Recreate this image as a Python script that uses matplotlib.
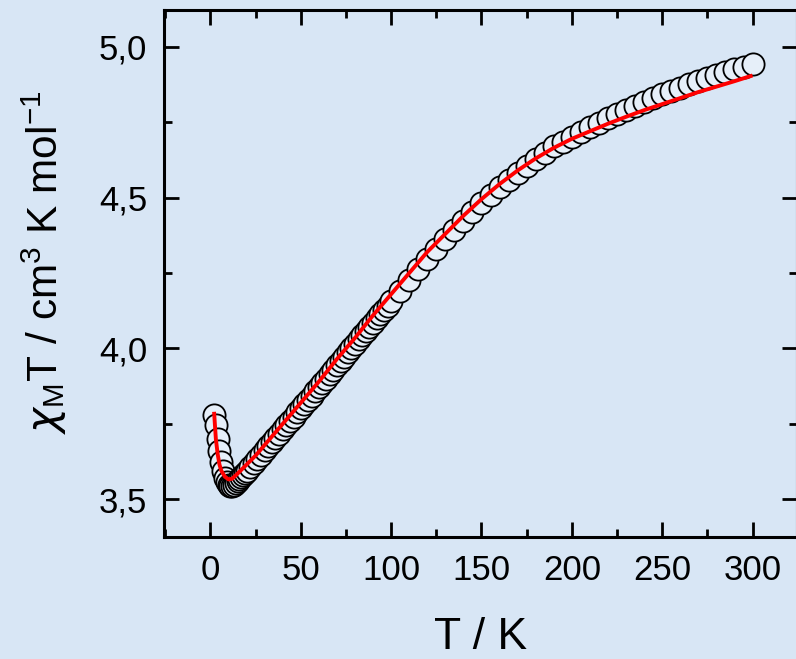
import matplotlib
matplotlib.use("Agg")
import matplotlib.pyplot as plt
from matplotlib.ticker import MultipleLocator

plt.rcParams['font.family'] = ['Liberation Sans', 'DejaVu Sans']
plt.rcParams['mathtext.fontset'] = 'custom'
plt.rcParams['mathtext.rm'] = 'Liberation Sans'
plt.rcParams['mathtext.it'] = 'DejaVu Sans:italic'
plt.rcParams['mathtext.bf'] = 'Liberation Sans:bold'

# ---- data: measured chi_M T (open circles) ----
T_exp = [2, 3, 4, 5, 6, 7, 8, 9, 10, 11, 12, 13, 14, 15, 16, 17, 18, 19, 20,
         22, 24, 26, 28, 30, 32, 34, 36, 38, 40, 42, 44, 46, 48, 50, 52, 54, 56, 58, 60,
         62, 64, 66, 68, 70, 72, 74, 76, 78, 80, 82, 84, 86, 88, 90, 92, 94, 96, 98, 100,
         105, 110, 115, 120, 125, 130, 135, 140, 145, 150, 155, 160, 165, 170, 175, 180,
         185, 190, 195, 200, 205, 210, 215, 220, 225, 230, 235, 240, 245, 250, 255, 260,
         265, 270, 275, 280, 285, 290, 295, 300]
chiT_exp = [3.780, 3.745, 3.700, 3.660, 3.625, 3.595, 3.572, 3.556, 3.547, 3.544,
            3.545, 3.548, 3.553, 3.559, 3.566, 3.573, 3.580, 3.587, 3.594,
            3.607, 3.620, 3.634, 3.648, 3.662, 3.676, 3.690, 3.704, 3.718, 3.732,
            3.746, 3.760, 3.774, 3.788, 3.802, 3.816, 3.830, 3.844, 3.858, 3.872,
            3.886, 3.900, 3.915, 3.929, 3.944, 3.958, 3.973, 3.987, 4.001, 4.016,
            4.030, 4.044, 4.058, 4.072, 4.086, 4.100, 4.114, 4.128, 4.142, 4.156,
            4.192, 4.228, 4.262, 4.297, 4.330, 4.362, 4.393, 4.424, 4.453, 4.481,
            4.508, 4.534, 4.559, 4.583, 4.606, 4.628, 4.649, 4.670, 4.686, 4.700,
            4.717, 4.733, 4.748, 4.763, 4.777, 4.791, 4.805, 4.818, 4.831, 4.843,
            4.854, 4.865, 4.876, 4.886, 4.896, 4.905, 4.915, 4.925, 4.934, 4.944]

# ---- data: fit (red line) ----
T_fit = [2, 3, 4, 5, 6, 8, 10, 12, 15, 20, 25, 30, 40, 50, 60, 70, 80, 90, 100,
         110, 120, 130, 140, 150, 160, 170, 180, 190, 200, 210, 220, 230, 240, 250,
         260, 270, 280, 290, 300]
chiT_fit = [3.790, 3.700, 3.650, 3.615, 3.595, 3.575, 3.566, 3.568, 3.585, 3.615,
            3.645, 3.680, 3.750, 3.820, 3.890, 3.965, 4.035, 4.110, 4.180,
            4.250, 4.320, 4.380, 4.440, 4.495, 4.545, 4.590, 4.630, 4.665, 4.695,
            4.720, 4.745, 4.768, 4.790, 4.810, 4.830, 4.850, 4.868, 4.886, 4.905]

x_ticks = [0, 50, 100, 150, 200, 250, 300]
y_ticks = [3.5, 4.0, 4.5, 5.0]
y_tick_labels = ['3,5', '4,0', '4,5', '5,0']

bg = '#d8e6f5'
W, H = 796, 659
fig = plt.figure(figsize=(W / 100, H / 100), dpi=100, facecolor=bg)
ax = fig.add_axes([164 / W, (H - 537) / H, 633 / W, 527 / H])
ax.set_facecolor(bg)

ax.plot(T_exp, chiT_exp, linestyle='none', marker='o', markersize=16,
        markerfacecolor='#e6eff9', markeredgecolor='black', markeredgewidth=1.3,
        zorder=2)
ax.plot(T_fit, chiT_fit, color='#ff0000', linewidth=2.8, zorder=3,
        solid_capstyle='butt')

ax.set_xlim(-25.7, 324.6)
ax.set_ylim(3.375, 5.122)

ax.set_xticks(x_ticks)
ax.set_xticklabels([str(v) for v in x_ticks])
ax.set_yticks(y_ticks)
ax.set_yticklabels(y_tick_labels)
ax.xaxis.set_minor_locator(MultipleLocator(25))
ax.yaxis.set_minor_locator(MultipleLocator(0.25))

for s in ax.spines.values():
    s.set_linewidth(2.2)
ax.tick_params(which='both', direction='in', top=True, right=True,
               width=2.0, colors='black')
ax.tick_params(which='major', length=11, labelsize=25, pad=12)
ax.tick_params(which='minor', length=6)

fig.text(481 / W, (H - 649) / H, 'T / K', fontsize=32, ha='center',
         va='baseline')
fig.text(58 / W, 1 - 262 / H, r'$\chi_{\mathrm{M}}$T / cm$^{3}$ K mol$^{-1}$',
         fontsize=30.5, rotation=90, rotation_mode='anchor', ha='center',
         va='baseline')

fig.savefig('out.png', dpi=100, facecolor=bg)
